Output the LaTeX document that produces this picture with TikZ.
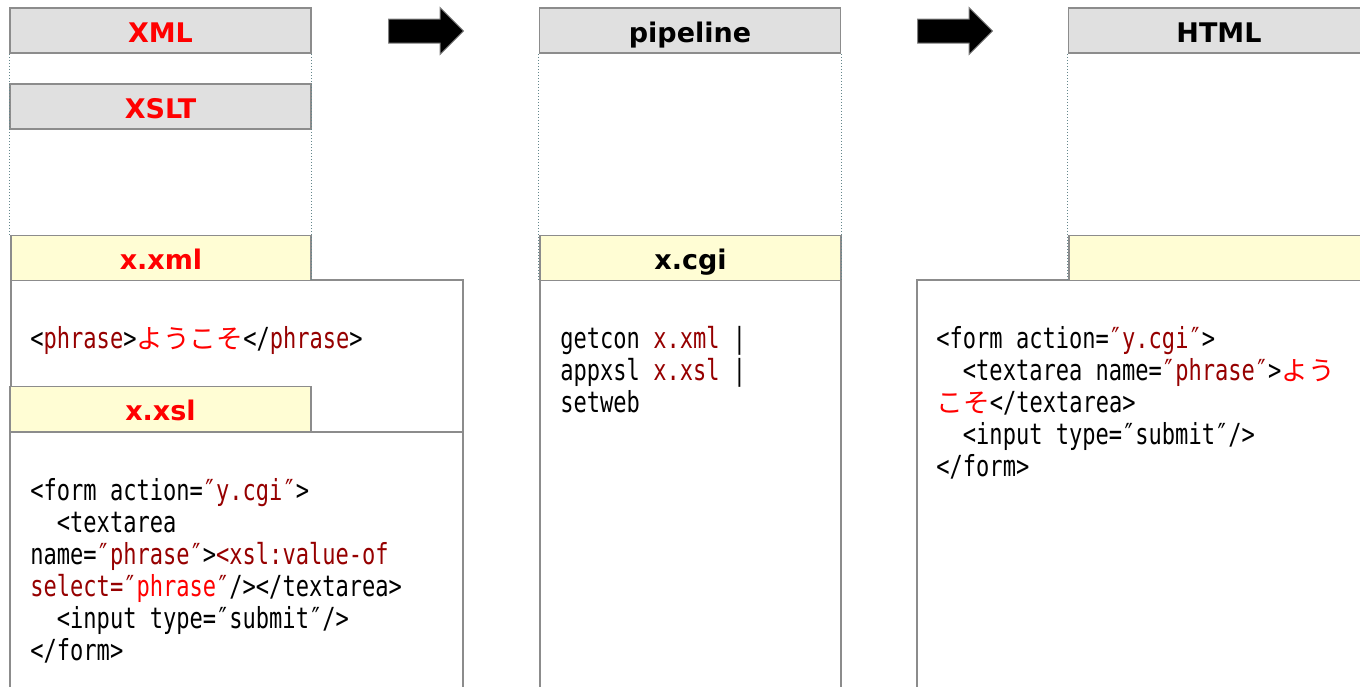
\documentclass[tikz,border=0pt]{standalone}
\usepackage{fontspec}
\usepackage{tikz}
\usetikzlibrary{shapes.arrows}
\usepackage{xcolor}
\newfontfamily\hdfont{DejaVu Sans}
\newfontfamily\codefont[FakeStretch=0.76]{DejaVu Sans Mono}
\newfontfamily\jp[Scale=0.92]{Noto Sans CJK JP}
\definecolor{codered}{RGB}{150, 0, 0}
\definecolor{hdrgray}{RGB}{224, 224, 224}
\definecolor{filenote}{RGB}{255, 253, 212}
\definecolor{edgegray}{RGB}{140, 140, 140}
\definecolor{lanedot}{RGB}{100, 135, 140}
\newcommand{\ind}{\phantom{xx}}

\begin{document}
\begin{tikzpicture}[x=0.5pt, y=-0.5pt,
  lanehead/.style={draw=edgegray, line width=0.75pt, fill=hdrgray, inner sep=0pt,
    minimum width=150.5pt, minimum height=22.5pt, text height=11.5pt, text depth=0pt,
    font=\hdfont\bfseries\fontsize{13.5}{15}\selectfont},
  filehead/.style={lanehead, fill=filenote},
  codebox/.style={draw=edgegray, line width=0.75pt, fill=white},
  codetext/.style={anchor=base west, align=left, inner sep=0pt,
    font=\fontsize{14.5}{16}\codefont},
  lanedash/.style={draw=lanedot, densely dotted, line width=0.5pt},
  blockarrow/.style={single arrow, fill=black, draw=gray, line width=0.5pt,
    inner xsep=0pt, inner ysep=5.75pt, minimum height=37.5pt,
    single arrow head extend=5.75pt, anchor=tail}]

  \clip (0,0) rectangle (1360,686);

  % lane titles
  \node[lanehead, text=red] (xml) at (160.5,30.5) {XML};
  \node[lanehead, text=red] (xslt) at (160.5,106.5) {XSLT};
  \node[lanehead] (pipe) at (690,30.5) {pipeline};
  \node[lanehead] (html) at (1219,30.5) {HTML};

  % flow arrows
  \node[blockarrow] (go1) at (388,31) {};
  \node[blockarrow] (go2) at (917,31) {};

  % x.xml
  \draw[codebox] (11,280) rectangle (463,700);
  \node[filehead, text=red, minimum width=150pt] (xmlfile) at (161,258) {x.xml};
  \node[codetext] (xmlsrc) at (30,348)
    {<\textcolor{codered}{phrase}>\textcolor{red}{\jp ようこそ}</\textcolor{codered}{phrase}>};

  % x.xsl (base = last line)
  \draw[codebox] (10,432) rectangle (463,700);
  \node[filehead, text=red] (xslfile) at (160.5,409) {x.xsl};
  \node[codetext] (xslsrc) at (30,660)
    {<form action=\textcolor{codered}{″y.cgi″}>\\
     \ind<textarea\\
     name=\textcolor{codered}{″phrase″}>\textcolor{codered}{<xsl:value-of}\\
     \textcolor{codered}{select=″}\textcolor{red}{phrase}\textcolor{codered}{″}/></textarea>\\
     \ind<input type=″submit″/>\\
     </form>};

  % x.cgi
  \draw[codebox] (540,280) rectangle (841,700);
  \node[filehead, minimum width=150.5pt] (cgifile) at (690.5,258) {x.cgi};
  \node[codetext] (cgisrc) at (560,412)
    {getcon \textcolor{codered}{x.xml} |\\
     appxsl \textcolor{codered}{x.xsl} |\\
     setweb};

  % generated page
  \draw[codebox] (917,280) rectangle (1370,700);
  \node[filehead] (pagefile) at (1219.5,258) {};
  \node[codetext] (pagesrc) at (936,476)
    {<form action=\textcolor{codered}{″y.cgi″}>\\
     \ind<textarea name=\textcolor{codered}{″phrase″}>\textcolor{red}{\jp よう}\\
     \textcolor{red}{\jp こそ}</textarea>\\
     \ind<input type=″submit″/>\\
     </form>};

  % lane borders
  \draw[lanedash] (xml.south west) -- (xml.south west |- xmlfile.north);
  \draw[lanedash] (xml.south east) -- (xml.south east |- xmlfile.south);
  \draw[lanedash] (pipe.south west) -- (pipe.south west |- cgifile.south);
  \draw[lanedash] (pipe.south east) -- (pipe.south east |- cgifile.south);
  \draw[lanedash] (html.south west) -- (html.south west |- pagefile.south);

\end{tikzpicture}
\end{document}
